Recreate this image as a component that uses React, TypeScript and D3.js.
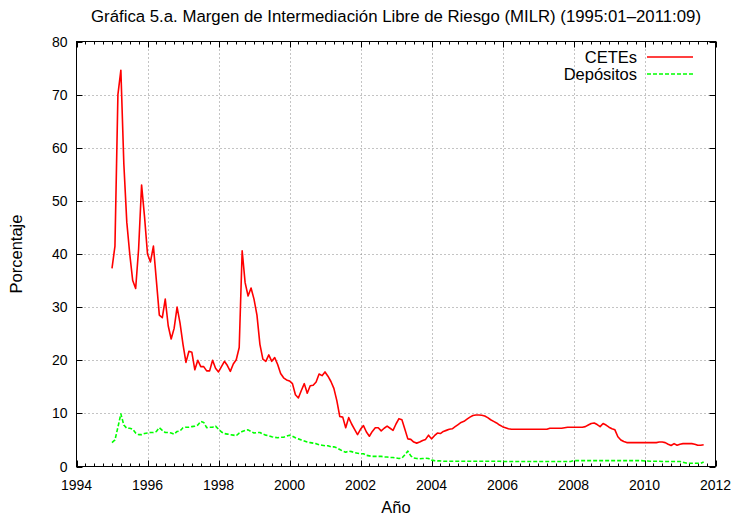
import React, { useEffect, useRef } from "react";
import * as d3 from "d3";

// Monthly series, 1995:01 - 2011:09 (one row per year)
const startYear = 1995;
const cetes: number[] = [
    37.3, 41.5, 70, 74.6, 57, 46, 40, 35, 33.5, 41, 53, 47, // 1995
    40, 38.5, 41.5, 35, 28.5, 28, 31.5, 26.5, 24, 26, 30, 27, // 1996
    23, 19.6, 21.7, 21.5, 18.2, 20, 18.8, 18.8, 18, 18, 20, 18.5, // 1997
    17.8, 18.8, 19.8, 19, 17.9, 19.3, 20.1, 22.4, 40.6, 34.6, 32.1, 33.6, // 1998
    31.5, 28.5, 23, 20.2, 19.8, 21, 19.8, 20.5, 19.2, 17.5, 16.7, 16.3, // 1999
    16.1, 15.6, 13.5, 12.9, 14.3, 15.6, 13.8, 15.2, 15.3, 15.9, 17.4, 17.1, // 2000
    17.8, 17, 16, 14.7, 12.4, 9.4, 9.3, 7.3, 9.2, 8.0, 7.0, 6.0, // 2001
    7.0, 7.7, 6.5, 5.7, 6.6, 7.3, 7.3, 6.7, 7.2, 7.6, 7.2, 6.8, // 2002
    8.0, 9.0, 8.8, 7.0, 5.2, 5.1, 4.6, 4.4, 4.6, 4.9, 5.1, 5.9, // 2003
    5.2, 5.8, 6.3, 6.2, 6.6, 6.8, 7.0, 7.1, 7.5, 7.9, 8.3, 8.5, // 2004
    8.9, 9.3, 9.6, 9.7, 9.7, 9.65, 9.5, 9.2, 8.8, 8.5, 8.2, 7.8, // 2005
    7.5, 7.3, 7.1, 7.0, 7.0, 7.0, 7.0, 7.0, 7.0, 7.0, 7.0, 7.0, // 2006
    7.0, 7.0, 7.0, 7.0, 7.2, 7.2, 7.2, 7.2, 7.2, 7.3, 7.4, 7.4, // 2007
    7.4, 7.4, 7.4, 7.4, 7.5, 7.8, 8.1, 8.2, 7.9, 7.5, 8.1, 7.8, // 2008
    7.4, 7.1, 6.9, 5.6, 5.0, 4.7, 4.5, 4.5, 4.5, 4.5, 4.5, 4.5, // 2009
    4.5, 4.5, 4.5, 4.5, 4.5, 4.6, 4.6, 4.5, 4.2, 3.95, 4.3, 4.0, // 2010
    4.2, 4.3, 4.3, 4.3, 4.3, 4.2, 4.0, 4.0, 4.1, // 2011
];
const depositos: number[] = [
    4.5, 5.0, 7.4, 9.9, 7.8, 7.2, 7.2, 7.0, 6.3, 6.0, 6.0, 6.2, // 1995
    6.3, 6.4, 6.4, 6.6, 7.3, 6.8, 6.4, 6.4, 6.3, 6.1, 6.6, 6.7, // 1996
    7.3, 7.4, 7.4, 7.5, 7.6, 7.8, 8.5, 8.3, 7.3, 7.4, 7.4, 7.6, // 1997
    7.0, 6.5, 6.2, 6.1, 6.0, 5.9, 5.8, 6.3, 6.6, 6.8, 6.9, 6.6, // 1998
    6.3, 6.4, 6.4, 6.1, 5.9, 5.8, 5.6, 5.5, 5.4, 5.5, 5.5, 5.7, // 1999
    5.9, 5.7, 5.4, 5.2, 5.0, 4.8, 4.6, 4.5, 4.4, 4.3, 4.1, 4.0, // 2000
    3.9, 3.9, 3.7, 3.7, 3.5, 3.2, 2.9, 2.7, 2.9, 2.8, 2.6, 2.5, // 2001
    2.4, 2.4, 2.1, 2.0, 1.9, 1.9, 1.9, 1.9, 1.8, 1.8, 1.7, 1.7, // 2002
    1.6, 1.5, 1.6, 2.2, 2.9, 2.0, 1.6, 1.5, 1.45, 1.5, 1.55, 1.5, // 2003
    1.2, 1.1, 1.05, 1.05, 1.0, 1.0, 1.0, 1.0, 1.0, 1.0, 1.0, 1.0, // 2004
    1.0, 1.0, 1.0, 1.0, 1.0, 1.0, 1.0, 1.0, 1.0, 1.0, 1.0, 1.0, // 2005
    0.95, 0.95, 0.95, 0.95, 0.95, 0.95, 0.95, 0.95, 0.95, 0.95, 0.95, 0.95, // 2006
    0.95, 0.95, 0.95, 0.95, 0.95, 0.95, 0.95, 0.95, 0.95, 0.95, 0.95, 0.95, // 2007
    1.1, 1.1, 1.1, 1.1, 1.1, 1.1, 1.1, 1.1, 1.1, 1.1, 1.1, 1.1, // 2008
    1.1, 1.1, 1.1, 1.1, 1.1, 1.1, 1.1, 1.1, 1.1, 1.1, 1.1, 1.1, // 2009
    1.05, 1.05, 1.0, 1.0, 1.0, 1.0, 0.95, 0.95, 0.95, 0.95, 0.95, 0.95, // 2010
    0.95, 0.8, 0.65, 0.6, 0.6, 0.6, 0.6, 0.6, 0.85, // 2011
];

const xTicks = [1994, 1996, 1998, 2000, 2002, 2004, 2006, 2008, 2010, 2012];
const yTicks = [0, 10, 20, 30, 40, 50, 60, 70, 80];
const seriesNames = ["CETEs", "Depósitos"];
const seriesColors = ["#ff0000", "#00ff00"];

const title = "Gráfica 5.a. Margen de Intermediación Libre de Riesgo (MILR) (1995:01–2011:09)";

export default function App() {
    const svgRef = useRef<SVGSVGElement | null>(null);
    const width = 733;
    const height = 517;

    useEffect(() => {
        if (!svgRef.current) return;
        const svg = d3.select(svgRef.current);
        svg.selectAll("*").remove();

        const left = 76.5, right = 715.5, top = 41.5, bottom = 466.5;
        const font = "'Liberation Sans', Arial, Helvetica, sans-serif";

        const x = d3.scaleLinear().domain([1994, 2012]).range([left, right]);
        const y = d3.scaleLinear().domain([0, 80]).range([bottom, top]);

        svg.append("rect").attr("width", width).attr("height", height).attr("fill", "#fff");

        // grid
        const grid = svg.append("g").attr("stroke", "#888").attr("stroke-width", 1).attr("stroke-dasharray", "1,3");
        xTicks.slice(1, -1).forEach((t) => {
            grid.append("line").attr("x1", Math.round(x(t)) + 0.5).attr("x2", Math.round(x(t)) + 0.5).attr("y1", top).attr("y2", bottom);
        });
        yTicks.slice(1, -1).forEach((t) => {
            grid.append("line").attr("x1", left).attr("x2", right).attr("y1", Math.round(y(t)) + 0.5).attr("y2", Math.round(y(t)) + 0.5);
        });

        // ticks (inward, mirrored)
        const ticks = svg.append("g").attr("stroke", "#000").attr("stroke-width", 1);
        const minorX = d3.range(1994, 2012.001, 0.25);
        minorX.forEach((t) => {
            const isMajor = Math.abs(t / 2 - Math.round(t / 2)) < 1e-6;
            const len = isMajor ? 6 : 3;
            const px = Math.round(x(t)) + 0.5;
            ticks.append("line").attr("x1", px).attr("x2", px).attr("y1", bottom).attr("y2", bottom - len);
            ticks.append("line").attr("x1", px).attr("x2", px).attr("y1", top).attr("y2", top + len);
        });
        yTicks.forEach((t) => {
            const py = Math.round(y(t)) + 0.5;
            ticks.append("line").attr("x1", left).attr("x2", left + 6).attr("y1", py).attr("y2", py);
            ticks.append("line").attr("x1", right).attr("x2", right - 6).attr("y1", py).attr("y2", py);
        });

        // frame
        svg.append("rect")
            .attr("x", left).attr("y", top)
            .attr("width", right - left).attr("height", bottom - top)
            .attr("fill", "none").attr("stroke", "#000").attr("stroke-width", 1);

        // tick labels
        svg.append("g").selectAll("text").data(xTicks).enter().append("text")
            .attr("x", (d) => x(d)).attr("y", bottom + 23)
            .attr("text-anchor", "middle").attr("font-family", font).attr("font-size", 14)
            .text((d) => String(d));
        svg.append("g").selectAll("text").data(yTicks).enter().append("text")
            .attr("x", left - 9).attr("y", (d) => y(d) + 5)
            .attr("text-anchor", "end").attr("font-family", font).attr("font-size", 14)
            .text((d) => String(d));

        // titles
        svg.append("text").attr("x", (left + right) / 2).attr("y", 22)
            .attr("text-anchor", "middle").attr("font-family", font).attr("font-size", 16.8)
            .attr("textLength", 610).attr("lengthAdjust", "spacingAndGlyphs")
            .text(title);
        svg.append("text").attr("x", (left + right) / 2).attr("y", 513)
            .attr("text-anchor", "middle").attr("font-family", font).attr("font-size", 16.5)
            .text("Año");
        svg.append("text")
            .attr("transform", `translate(22, ${(top + bottom) / 2}) rotate(-90)`)
            .attr("text-anchor", "middle").attr("font-family", font).attr("font-size", 16.5)
            .text("Porcentaje");

        // lines
        const lineGen = d3.line<number>()
            .x((_, i) => x(startYear + i / 12))
            .y((d) => y(d));

        [cetes, depositos].forEach((s, i) => {
            svg.append("path")
                .datum(s)
                .attr("fill", "none")
                .attr("stroke", seriesColors[i])
                .attr("stroke-width", 1.6)
                .attr("stroke-linejoin", "round")
                .attr("stroke-dasharray", i === 1 ? "4,2" : null)
                .attr("d", lineGen);
        });

        // legend
        const legend = svg.append("g");
        seriesNames.forEach((name, i) => {
            const ly = 57 + i * 17;
            legend.append("text").attr("x", 637).attr("y", ly + 6)
                .attr("text-anchor", "end").attr("font-family", font).attr("font-size", 16.5)
                .text(name);
            legend.append("line")
                .attr("x1", 647).attr("x2", 693).attr("y1", ly).attr("y2", ly)
                .attr("stroke", seriesColors[i]).attr("stroke-width", 1.6)
                .attr("stroke-dasharray", i === 1 ? "4,2" : null);
        });
    }, []);

    return (
        <svg
            ref={svgRef}
            width={width}
            height={height}
            style={{ position: "absolute", left: 0, top: 0, display: "block" }}
        />
    );
}
